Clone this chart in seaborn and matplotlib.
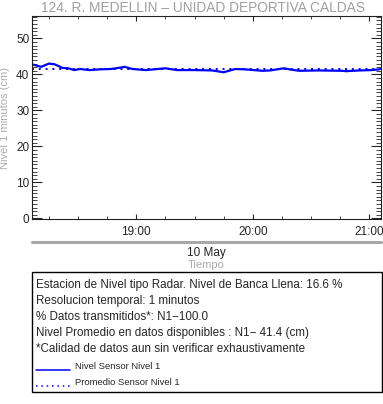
import pandas as pd
import matplotlib
matplotlib.use("Agg")
import matplotlib.pyplot as plt
import matplotlib.dates as mdates
from matplotlib.patches import Rectangle
from matplotlib.ticker import MultipleLocator
import seaborn as sns

# --- data ---
times = ["18:07", "18:11", "18:15", "18:18", "18:22", "18:25", "18:28", "18:31",
         "18:36", "18:41", "18:47", "18:52", "18:54", "18:58", "19:05", "19:15",
         "19:21", "19:30", "19:39", "19:45", "19:51", "19:56", "20:05", "20:09",
         "20:16", "20:20", "20:24", "20:34", "20:46", "20:48", "20:55", "21:01",
         "21:05"]
nivel = [42.7, 42.1, 43.0, 42.8, 41.8, 41.7, 41.2, 41.5,
         41.2, 41.4, 41.5, 41.9, 42.1, 41.5, 41.2, 41.7,
         41.2, 41.2, 41.1, 40.6, 41.5, 41.4, 41.0, 41.1,
         41.7, 41.3, 41.0, 41.1, 41.0, 40.9, 41.1, 41.2,
         41.4]
promedio = 41.4
day = "2024-05-10"
x_start, x_end = "18:06:20", "21:06:00"

info_lines = [
    "Estacion de Nivel tipo Radar. Nivel de Banca Llena: 16.6 %",
    "Resolucion temporal: 1 minutos",
    "% Datos transmitidos*: N1\u2212100.0",
    "Nivel Promedio en datos disponibles : N1\u2212 41.4 (cm)",
    "*Calidad de datos aun sin verificar exhaustivamente",
]
legend_labels = ["Nivel Sensor Nivel 1", "Promedio Sensor Nivel 1"]

df = pd.DataFrame({"tiempo": pd.to_datetime([f"{day} {t}" for t in times]),
                   "nivel": nivel})
t0 = pd.Timestamp(f"{day} {x_start}")
t1 = pd.Timestamp(f"{day} {x_end}")

sns.set_style("ticks")
plt.rcParams["font.family"] = ["Liberation Sans", "DejaVu Sans"]

fig = plt.figure(figsize=(3.83, 4.04), dpi=100)
ax = fig.add_axes([0.0836, 0.4567, 0.9112, 0.5044])

sns.lineplot(data=df, x="tiempo", y="nivel", ax=ax, color="#0000ff", lw=1.6)
ax.plot([t0, t1], [promedio, promedio], color="#0000ff", lw=1.4, ls=(0, (1, 2.5)))

ax.set_xlim(t0, t1)
ax.set_ylim(-0.3, 56.3)
ax.yaxis.set_major_locator(MultipleLocator(10))
ax.yaxis.set_minor_locator(MultipleLocator(1))
ax.xaxis.set_major_locator(mdates.HourLocator())
ax.xaxis.set_minor_locator(mdates.MinuteLocator(byminute=[0, 15, 30, 45]))
ax.xaxis.set_major_formatter(mdates.DateFormatter("%H:%M"))
ax.tick_params(axis="y", which="major", direction="in", length=7, width=0.8,
               labelsize=8.5, left=True, right=True, pad=2)
ax.tick_params(axis="y", which="minor", direction="in", length=3.5, width=0.6,
               left=True, right=True)
ax.tick_params(axis="x", which="major", direction="in", length=3.5, width=0.8,
               labelsize=8.5, bottom=True, top=True, pad=5)
ax.tick_params(axis="x", which="minor", direction="in", length=2, width=0.6,
               bottom=True, top=True)
for s in ax.spines.values():
    s.set_visible(True)
    s.set_linewidth(0.8)
    s.set_color("#222222")
ax.set_xlabel("")
ax.set_ylabel("Nivel 1 minutos (cm)", color="#aaaaaa", fontsize=8, labelpad=4)

fig.text(0.53, 0.979, "124. R. MEDELLIN \u2013 UNIDAD DEPORTIVA CALDAS",
         ha="center", va="center", fontsize=9.9, color="#a0a0a0")

# grey divider, date and axis title
fig.add_artist(plt.Line2D([0.0836, 0.9948], [0.4017, 0.4017], color="#a8a8a8",
                          lw=2.2, transform=fig.transFigure))
fig.text(0.539, 0.374, "10 May", ha="center", va="center", fontsize=8.5)
fig.text(0.539, 0.345, "Tiempo", ha="center", va="center", fontsize=8, color="#aaaaaa")

# info box
fig.add_artist(Rectangle((0.0836, 0.0285), 0.913, 0.298, transform=fig.transFigure,
                         fill=False, edgecolor="black", lw=1.0))
ys = [285, 301, 317.3, 333.3, 349]
for txt, y in zip(info_lines, ys):
    fig.text(36 / 383, 1 - y / 404, txt, ha="left", va="center", fontsize=8.4)
for lab, y, ls in zip(legend_labels, [366.7, 382.7], ["-", (0, (1, 2.5))]):
    yy = 1 - (y + 3) / 404
    fig.add_artist(plt.Line2D([36 / 383, 70 / 383], [yy, yy], color="#0000ff",
                              lw=1.1, ls=ls, transform=fig.transFigure))
    fig.text(75 / 383, 1 - y / 404, lab, ha="left", va="center", fontsize=6.8)

fig.savefig("out.png", dpi=100)
